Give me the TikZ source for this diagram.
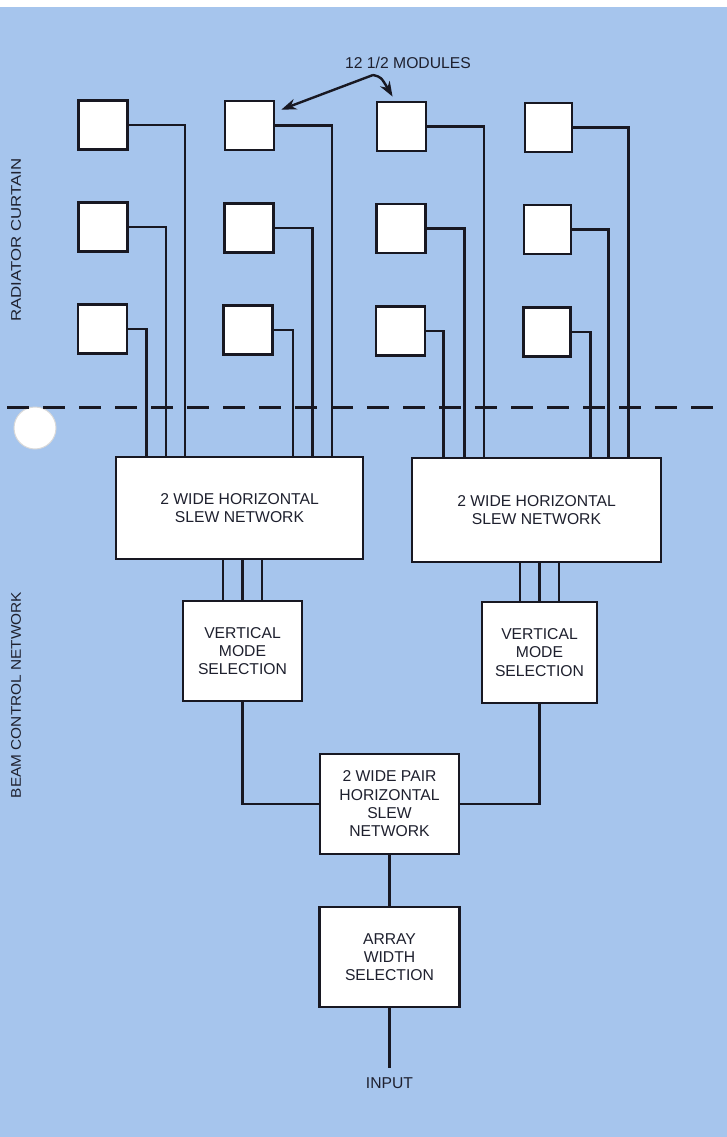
\documentclass[tikz,border=0pt]{standalone}
\usepackage{fontspec}
\setmainfont{Liberation Sans}
\usetikzlibrary{arrows.meta,calc}
\definecolor{bgblue}{RGB}{166,197,237}
\definecolor{ink}{RGB}{24,24,34}
\definecolor{txt}{RGB}{30,32,46}
\begin{document}
\begin{tikzpicture}[x=1pt,y=-1pt,
  modbox/.style={draw=ink,fill=white,line width=2.9pt,minimum width=49pt,minimum height=49pt,inner sep=0pt},
  blockbox/.style={draw=ink,fill=white,line width=2.9pt,inner sep=0pt,align=center,text=txt,
     font=\fontsize{15.7}{18.3}\selectfont},
  wire/.style={draw=ink,line width=2.6pt},
  sidelabel/.style={rotate=90,text=txt,font=\fontsize{14}{16}\selectfont,inner sep=0pt},
  ptr/.style={draw=ink,line width=2.4pt,-{Stealth[length=15pt,width=11pt]}}]
\useasboundingbox (0,0) rectangle (727,1137);
\fill[bgblue] (0,0) rectangle (727,1137);
\fill[white] (0,0) rectangle (727,7);

% hole punch
\fill[white,draw=black!15,line width=1pt] (35,428) circle (21);

% separator
\draw[ink,line width=3pt,dash pattern=on 22pt off 14pt] (7,407) -- (715,407);

% side labels
\node[sidelabel] (lrc) at (16,240) {\scalebox{1.2}[1]{RADIATOR CURTAIN}};
\node[sidelabel] (lbc) at (16,695) {\scalebox{1.1}[1]{BEAM CONTROL NETWORK}};

% modules
\node[modbox] (m11) at (103,125) {};
\node[modbox] (m12) at (103,227) {};
\node[modbox] (m13) at (102.5,329) {};
\node[modbox] (m21) at (249.5,125.5) {};
\node[modbox] (m22) at (249,228) {};
\node[modbox] (m23) at (248,330) {};
\node[modbox] (m31) at (401.5,126.5) {};
\node[modbox] (m32) at (401,228.5) {};
\node[modbox] (m33) at (400.5,331) {};
\node[modbox,minimum width=47pt] (m41) at (548.5,127.5) {};
\node[modbox,minimum width=47pt] (m42) at (547.5,229.5) {};
\node[modbox,minimum width=47pt] (m43) at (547,332) {};

% network blocks
\node[blockbox,minimum width=247pt,minimum height=102pt] (sl1) at (239.5,508)
  {2 WIDE HORIZONTAL\\SLEW NETWORK};
\node[blockbox,minimum width=249pt,minimum height=104pt] (sl2) at (536.5,510)
  {2 WIDE HORIZONTAL\\SLEW NETWORK};
\node[blockbox,minimum width=119pt,minimum height=100pt] (vm1) at (242.5,651)
  {VERTICAL\\MODE\\SELECTION};
\node[blockbox,minimum width=115pt,minimum height=101pt] (vm2) at (539.5,652.5)
  {VERTICAL\\MODE\\SELECTION};
\node[blockbox,minimum width=139pt,minimum height=100pt] (pair) at (389.5,804)
  {2 WIDE PAIR\\HORIZONTAL\\SLEW\\NETWORK};
\node[blockbox,minimum width=140pt,minimum height=100pt] (arr) at (389.5,957)
  {ARRAY\\WIDTH\\SELECTION};
\node[text=txt,font=\fontsize{15.7}{18}\selectfont,inner sep=0pt,text height=11pt,text depth=0pt,outer ysep=10pt]
  (inp) at (389.5,1083) {INPUT};

% label and pointers
\node[text=txt,font=\fontsize{15.7}{18}\selectfont,inner sep=0pt] (lab) at (408,63) {12 1/2 MODULES};
\coordinate (jn) at (373,75);
\draw[ptr] (jn) -- ($(m21.north east)+(6,10)$);
\draw[ptr] (jn) .. controls (381,77) .. ($(m31.north west)+(17,-4)$);

% drop positions
\coordinate (d11) at (185,0);   \coordinate (d12) at (166,0);   \coordinate (d13) at (146.5,0);
\coordinate (d21) at (332,0);   \coordinate (d22) at (312.5,0); \coordinate (d23) at (293,0);
\coordinate (d31) at (484,0);   \coordinate (d32) at (464.5,0); \coordinate (d33) at (443.5,0);
\coordinate (d41) at (628.5,0); \coordinate (d42) at (608.5,0); \coordinate (d43) at (590.5,0);

% module to slew network wiring
\foreach \c/\s in {1/sl1,2/sl1,3/sl2,4/sl2}{
  \foreach \r in {1,2,3}{
    \draw[wire] (m\c\r.east) -| (d\c\r |- \s.north);
  }
}

% slew network to vertical mode selection (three lines each)
\foreach \dx in {-19.5,0,19.5}{
  \draw[wire] ([xshift=\dx pt]vm1.north |- sl1.south) -- ([xshift=\dx pt]vm1.north);
  \draw[wire] ([xshift=\dx pt]vm2.north |- sl2.south) -- ([xshift=\dx pt]vm2.north);
}

% lower tree
\draw[wire] (vm1.south) |- (pair.west);
\draw[wire] (vm2.south) |- (pair.east);
\draw[wire] (pair.south) -- (arr.north);
\draw[wire] (arr.south) -- (inp.north);
\end{tikzpicture}
\end{document}
